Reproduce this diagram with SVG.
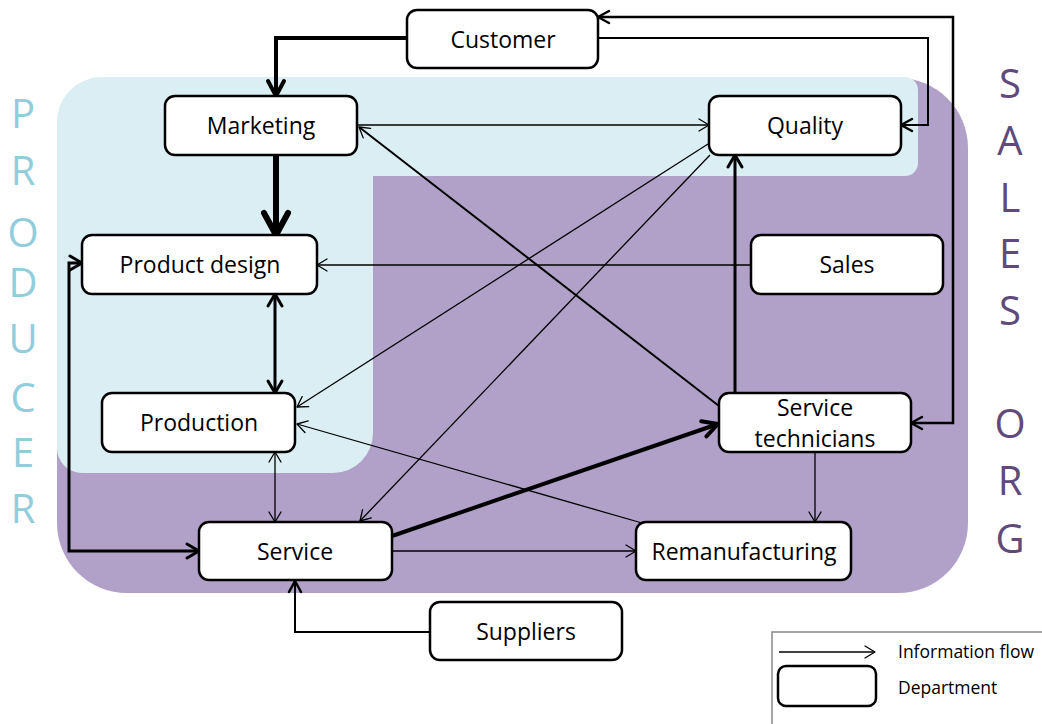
<svg xmlns="http://www.w3.org/2000/svg" width="1042" height="724" viewBox="0 0 1042 724">
<style>
.node rect{fill:#fff;stroke:#000;stroke-width:2.5}
.node text,.lbl{font-family:"Open Sans","Liberation Sans",sans-serif;font-size:23px;fill:#000;text-anchor:middle}
.ln{fill:none;stroke:#000;stroke-linejoin:miter}
.t1{stroke-width:1.3}
.t2{stroke-width:2}
.t25{stroke-width:2.5}
.t3{stroke-width:3}
.t4{stroke-width:4}
.t6{stroke-width:6}
.side{font-family:"Open Sans","Liberation Sans",sans-serif;font-size:40px;text-anchor:middle}
.leg{font-family:"Open Sans","Liberation Sans",sans-serif;font-size:17.5px;fill:#000}
</style>
<defs>
<marker id="mt" markerUnits="userSpaceOnUse" markerWidth="12" markerHeight="14" refX="10" refY="0" orient="auto-start-reverse" overflow="visible"><path d="M0,-6 L10,0 L0,6" fill="none" stroke="#000" stroke-width="1.3" stroke-linecap="round" stroke-linejoin="round"/></marker>
<marker id="mm" markerUnits="userSpaceOnUse" markerWidth="12" markerHeight="14" refX="11" refY="0" orient="auto-start-reverse" overflow="visible"><path d="M0,-6 L11,0 L0,6" fill="none" stroke="#000" stroke-width="2.5" stroke-linecap="round" stroke-linejoin="round"/></marker>
<marker id="m3" markerUnits="userSpaceOnUse" markerWidth="14" markerHeight="16" refX="12" refY="0" orient="auto-start-reverse" overflow="visible"><path d="M0,-7 L12,0 L0,7" fill="none" stroke="#000" stroke-width="3" stroke-linecap="round" stroke-linejoin="round"/></marker>
<marker id="mb" markerUnits="userSpaceOnUse" markerWidth="16" markerHeight="18" refX="15" refY="0" orient="auto-start-reverse" overflow="visible"><path d="M0,-8 L15,0 L0,8" fill="none" stroke="#000" stroke-width="4" stroke-linecap="round" stroke-linejoin="round"/></marker>
<marker id="mh" markerUnits="userSpaceOnUse" markerWidth="24" markerHeight="28" refX="22" refY="0" orient="auto-start-reverse" overflow="visible"><path d="M0,-12 L22,0 L0,12" fill="none" stroke="#000" stroke-width="6" stroke-linecap="round" stroke-linejoin="round"/></marker>
</defs>
<rect width="1042" height="724" fill="#fff"/>
<g id="regions">
<rect x="57" y="78" width="911" height="515" rx="70" fill="#B1A0C7"/>
<path d="M57,122 A45,45 0 0 1 102,77 L905,77 A13,13 0 0 1 918,90 L918,163 A13,13 0 0 1 905,176 L373,176 L373,433 A40,40 0 0 1 333,473 L82,473 A25,25 0 0 1 57,448 Z" fill="#DAEEF3"/>
</g>
<g id="side-labels">
<g class="side" fill="#92CDDC">
<text x="23" y="128">P</text><text x="23" y="185">R</text><text x="23" y="247">O</text><text x="23" y="297">D</text><text x="23" y="353">U</text><text x="23" y="412">C</text><text x="23" y="467">E</text><text x="23" y="523">R</text>
</g>
<g class="side" fill="#604A7B">
<text x="1010" y="98">S</text><text x="1010" y="155">A</text><text x="1010" y="212">L</text><text x="1010" y="268">E</text><text x="1010" y="325">S</text><text x="1010" y="438">O</text><text x="1010" y="495">R</text><text x="1010" y="553">G</text>
</g>
</g>
<g id="connectors">
<path class="ln t4" d="M407,38 L276,38 L276,96" marker-end="url(#mb)"/>
<path class="ln t6" d="M276,155 L276,235" marker-end="url(#mh)"/>
<path class="ln t1" d="M357,125 L709,125" marker-end="url(#mt)"/>
<path class="ln t2" d="M598,38 L928,38 L928,125 L901,125" marker-end="url(#mm)"/>
<path class="ln t25" d="M911,423 L953,423 L953,17 L598,17" marker-start="url(#mm)" marker-end="url(#mm)"/>
<path class="ln t1" d="M751,265 L317,265" marker-end="url(#mt)"/>
<path class="ln t3" d="M275,294 L275,393" marker-start="url(#m3)" marker-end="url(#m3)"/>
<path class="ln t1" d="M708,144 L297,407" marker-end="url(#mt)"/>
<path class="ln t1" d="M710,155 L360,521" marker-end="url(#mt)"/>
<path class="ln t3" d="M735,393 L735,155" marker-end="url(#m3)"/>
<path class="ln t2" d="M719,406 L359,127" marker-end="url(#mt)"/>
<path class="ln t1" d="M642,523 L297,424" marker-end="url(#mt)"/>
<path class="ln t1" d="M275,452 L275,522" marker-start="url(#mt)" marker-end="url(#mt)"/>
<path class="ln t4" d="M392,536 L718,424" marker-end="url(#mb)"/>
<path class="ln t1" d="M392,551 L636,551" marker-end="url(#mt)"/>
<path class="ln t1" d="M815,452 L815,522" marker-end="url(#mt)"/>
<path class="ln t2" d="M430,632 L295,632 L295,581" marker-end="url(#mm)"/>
<path class="ln t3" d="M82,263 L69,263 L69,551 L199,551" marker-start="url(#m3)" marker-end="url(#m3)"/>
</g>
<g id="customer" class="node"><rect x="407" y="10" width="191" height="58" rx="10"/><text x="503" y="48">Customer</text></g>
<g id="marketing" class="node"><rect x="165" y="96" width="192" height="59" rx="10"/><text x="261" y="134">Marketing</text></g>
<g id="quality" class="node"><rect x="709" y="96" width="192" height="59" rx="10"/><text x="805" y="134">Quality</text></g>
<g id="product-design" class="node"><rect x="82" y="235" width="235" height="59" rx="10"/><text x="200" y="273">Product design</text></g>
<g id="sales" class="node"><rect x="751" y="235" width="192" height="59" rx="10"/><text x="847" y="273">Sales</text></g>
<g id="production" class="node"><rect x="102" y="393" width="193" height="59" rx="10"/><text x="199" y="431">Production</text></g>
<g id="service-technicians" class="node"><rect x="719" y="393" width="192" height="59" rx="10"/><text x="815" y="416">Service</text><text x="815" y="447">technicians</text></g>
<g id="service" class="node"><rect x="199" y="522" width="193" height="58" rx="10"/><text x="295" y="560">Service</text></g>
<g id="remanufacturing" class="node"><rect x="636" y="522" width="215" height="58" rx="10"/><text x="744" y="560">Remanufacturing</text></g>
<g id="suppliers" class="node"><rect x="430" y="602" width="192" height="58" rx="10"/><text x="526" y="640">Suppliers</text></g>
<g id="legend">
<rect x="772" y="632" width="280" height="100" fill="#fff" stroke="#888" stroke-width="1.5"/>
<path class="ln t1" d="M779,652 L875,652" marker-end="url(#mt)"/>
<rect x="778" y="666" width="98" height="40" rx="8" fill="#fff" stroke="#000" stroke-width="2.5"/>
<text class="leg" x="898" y="658">Information flow</text>
<text class="leg" x="898" y="694">Department</text>
</g>
</svg>
